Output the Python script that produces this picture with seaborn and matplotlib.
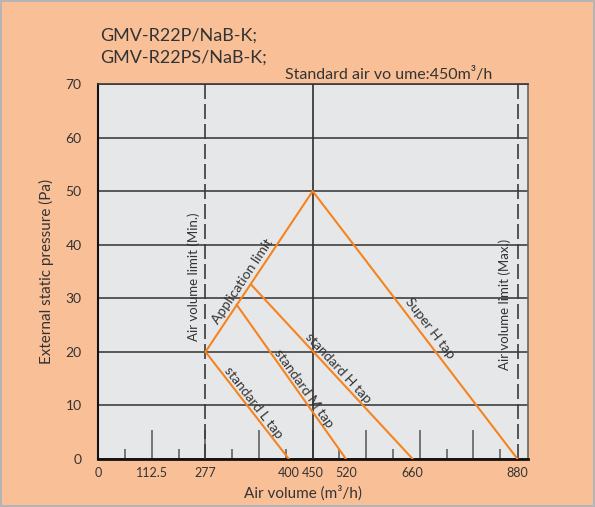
import numpy as np
import pandas as pd
import matplotlib
matplotlib.use("Agg")
import matplotlib.pyplot as plt
import seaborn as sns

# ---- data -------------------------------------------------------------
line_names = ["Application limit", "standard L tap", "standard M tap",
              "standard H tap", "Super H tap"]
x_start = [277, 277, 323, 344, 450]      # air volume (m3/h)
y_start = [20, 20, 28.8, 32.6, 50]       # static pressure (Pa)
x_end = [450, 400, 520, 660, 880]
y_end = [50, 0, 0, 0, 0]

x_tick_values = [0, 112.5, 277, 400, 450, 520, 660, 880]
x_tick_labels = ["0", "112.5", "277", "400", "450", "520", "660", "880"]
y_tick_values = [0, 10, 20, 30, 40, 50, 60, 70]

min_airflow = 277
max_airflow = 880
standard_airflow = 450

# ---- style ------------------------------------------------------------
sns.set_style("white")
plt.rcParams["font.family"] = ["Lato", "DejaVu Sans"]
BG = "#F9C098"
PANEL = "#E6E7E9"
ORANGE = "#F5841F"
TEXT = "#333333"
GRID = "#4D4D4D"

fig = plt.figure(figsize=(5.95, 5.07), dpi=100)
fig.patch.set_facecolor(BG)
fig.patch.set_edgecolor("#B5B5B5")
fig.patch.set_linewidth(1.5)

ax = fig.add_axes([98.3 / 595, 48 / 507, 429.7 / 595, 375 / 507])
ax.set_facecolor(PANEL)

# piecewise axis scale of the air-volume axis (16 tick intervals wide)
scale_x = [0, 112.5, 277, 400, 902]
scale_u = [0, 2, 4, 400 / 56.25, 902 / 56.25]


def fwd(x):
    return np.interp(x, scale_x, scale_u)


def inv(u):
    return np.interp(u, scale_u, scale_x)


ax.set_xscale("function", functions=(fwd, inv))

df = pd.DataFrame({
    "line": np.repeat(line_names, 2),
    "airflow": np.ravel(np.column_stack([x_start, x_end])),
    "pressure": np.ravel(np.column_stack([y_start, y_end])),
})

sns.lineplot(data=df, x="airflow", y="pressure", units="line",
             estimator=None, sort=False, color=ORANGE, lw=1.5,
             ax=ax, zorder=5, legend=False)

ax.set_xlim(0, 902)
ax.set_ylim(0, 70)

# horizontal grid
ax.set_yticks(y_tick_values)
ax.yaxis.grid(True, color=GRID, lw=1.3)
ax.xaxis.grid(False)
ax.set_axisbelow(True)

# reference air-volume lines
ax.axvline(standard_airflow, color="#2E2E2E", lw=1.2, zorder=3)
for xv in (min_airflow, max_airflow):
    ax.axvline(xv, color="#3A3A3A", lw=1.2, dashes=(9, 3), zorder=3)

# inner scale marks along the bottom
xa = ax.get_xaxis_transform()
for k in range(1, 16):
    h = 0.078 if k % 2 == 0 else 0.028
    ax.vlines(inv(k), 0, h, transform=xa, color="#555555", lw=1.1, zorder=2)

ax.set_xticks(x_tick_values)
ax.set_xticklabels(x_tick_labels)
ax.xaxis.set_minor_locator(matplotlib.ticker.NullLocator())
ax.tick_params(axis="x", length=0, pad=6, labelsize=9, labelcolor=TEXT)
ax.tick_params(axis="y", length=0, pad=12, labelsize=10, labelcolor=TEXT)

for side, sp in ax.spines.items():
    sp.set_visible(True)
ax.spines["left"].set_color("#111111")
ax.spines["left"].set_linewidth(1.5)
ax.spines["bottom"].set_color("#111111")
ax.spines["bottom"].set_linewidth(2.0)
ax.spines["top"].set_color("#3A3A3A")
ax.spines["top"].set_linewidth(1.2)
ax.spines["right"].set_color("#666666")
ax.spines["right"].set_linewidth(1.2)

ax.set_xlabel("Air volume (m³/h)", fontsize=11, color=TEXT, va="center")
ax.xaxis.set_label_coords(0.476, -0.0907)
ax.set_ylabel("External static pressure (Pa)", fontsize=11, color=TEXT,
              va="center")
ax.yaxis.set_label_coords(-0.1217, 0.5)

# ---- text along the lines --------------------------------------------
label_t = [0.41, 0.51, 0.567, 0.508, 0.533]
label_off = [8.5, 7.0, 6.5, 7.0, 9.5]


def line_label(text, x0, y0, x1, y1, t, off):
    p0 = ax.transData.transform((x0, y0))
    p1 = ax.transData.transform((x1, y1))
    d = p1 - p0
    ang = np.degrees(np.arctan2(d[1], d[0]))
    if ang > 90:
        ang -= 180
    elif ang < -90:
        ang += 180
    u = d / np.hypot(*d)
    n = np.array([-u[1], u[0]])
    pm = ax.transData.inverted().transform(p0 + t * d)
    ax.annotate(text, xy=pm, xytext=tuple(n * off), textcoords="offset pixels",
                rotation=ang, rotation_mode="anchor", ha="center",
                va="center", fontsize=10, color=TEXT, zorder=6)


for i, name in enumerate(line_names):
    line_label(name, x_start[i], y_start[i], x_end[i], y_end[i],
               label_t[i], label_off[i])

ax.annotate("Air volume limit (Min.)", xy=(min_airflow, 34), xytext=(-12, 0),
            textcoords="offset pixels", rotation=90, ha="center", va="center",
            fontsize=9.5, color=TEXT)
ax.annotate("Air volume limit (Max.)", xy=(max_airflow, 28.9), xytext=(-13, 0),
            textcoords="offset pixels", rotation=90, ha="center", va="center",
            fontsize=9.5, color=TEXT)

# ---- header -----------------------------------------------------------
fig.text(100.5 / 595, 1 - 36 / 507, "GMV-R22P/NaB-K;", fontsize=13,
         color=TEXT, ha="left", va="center")
fig.text(100.5 / 595, 1 - 58 / 507, "GMV-R22PS/NaB-K;", fontsize=13,
         color=TEXT, ha="left", va="center")
fig.text(285 / 595, 1 - 75 / 507, "Standard air vo ume:450m³/h", fontsize=11.5,
         color=TEXT, ha="left", va="center")

fig.savefig("out.png", dpi=100, facecolor=fig.get_facecolor(),
            edgecolor=fig.get_edgecolor())
